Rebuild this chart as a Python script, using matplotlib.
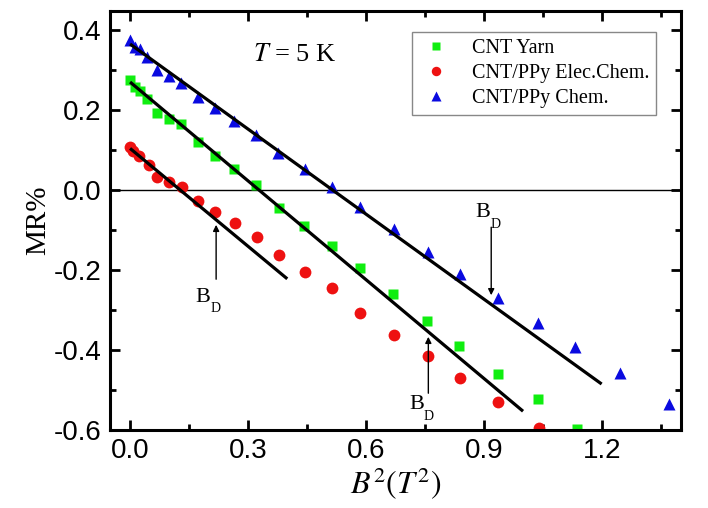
import numpy as np
import matplotlib
matplotlib.use("Agg")
import matplotlib.pyplot as plt
from matplotlib.ticker import MultipleLocator, FormatStrFormatter

plt.rcParams['axes.unicode_minus'] = False
plt.rcParams['mathtext.fontset'] = 'stix'

# CNT Yarn (green squares)
yarn_x = [0.0, 0.013, 0.025, 0.044, 0.068, 0.098, 0.129, 0.174, 0.216, 0.265, 0.320, 0.379,
          0.443, 0.513, 0.584, 0.670, 0.755, 0.838, 0.937, 1.038, 1.137]
yarn_y = [0.275, 0.258, 0.248, 0.227, 0.192, 0.178, 0.164, 0.121, 0.085, 0.052, 0.012, -0.044,
          -0.090, -0.139, -0.196, -0.261, -0.327, -0.390, -0.460, -0.522, -0.598]

# CNT/PPy Elec.Chem. (red circles)
elec_x = [0.0, 0.008, 0.024, 0.047, 0.069, 0.099, 0.131, 0.174, 0.216, 0.267, 0.322, 0.379,
          0.445, 0.515, 0.585, 0.672, 0.759, 0.840, 0.937, 1.041]
elec_y = [0.108, 0.098, 0.086, 0.062, 0.033, 0.021, 0.007, -0.027, -0.055, -0.083, -0.118, -0.163,
          -0.204, -0.246, -0.307, -0.363, -0.415, -0.471, -0.531, -0.594]

# CNT/PPy Chem. (blue triangles)
chem_x = [0.0, 0.013, 0.025, 0.043, 0.068, 0.099, 0.129, 0.173, 0.216, 0.265, 0.321, 0.377,
          0.445, 0.513, 0.585, 0.672, 0.759, 0.840, 0.937, 1.038, 1.132, 1.247, 1.371]
chem_y = [0.375, 0.358, 0.352, 0.333, 0.300, 0.285, 0.268, 0.233, 0.205, 0.173, 0.138, 0.093,
          0.052, 0.008, -0.043, -0.098, -0.154, -0.210, -0.271, -0.332, -0.393, -0.458, -0.535]

# linear fits (start / end points)
fit_yarn = ([0.0, 1.0], [0.270, -0.553])
fit_elec = ([0.0, 0.40], [0.104, -0.222])
fit_chem = ([0.0, 1.2], [0.365, -0.485])

# B_D markers: (arrow x, tail y, head y, text x, text y)
bd_marks = [(0.219, -0.223, -0.087, 0.205, -0.268),
            (0.759, -0.508, -0.367, 0.748, -0.537),
            (0.919, -0.093, -0.263, 0.916, -0.057)]

fig = plt.figure(figsize=(7.08, 5.08), dpi=100)
ax = fig.add_axes([0.1554, 0.1535, 0.8065, 0.8248])

ax.axhline(0, color='black', lw=1.0, zorder=1)

for fx, fy in (fit_yarn, fit_elec, fit_chem):
    ax.plot(fx, fy, color='black', lw=2.3, zorder=3, solid_capstyle='butt')

ax.plot(yarn_x, yarn_y, 's', color='#10ee10', ms=7.5, mec='none', label='CNT Yarn', zorder=2)
ax.plot(elec_x, elec_y, 'o', color='#ee1111', ms=8.5, mec='none', label='CNT/PPy Elec.Chem.', zorder=2)
ax.plot(chem_x, chem_y, '^', color='#0a0ae0', ms=9, mec='none', label='CNT/PPy Chem.', zorder=2)

for ax_x, y0, y1, tx, ty in bd_marks:
    ax.annotate('', xy=(ax_x, y1), xytext=(ax_x, y0),
                arrowprops=dict(arrowstyle='-|>', color='black', lw=1.0,
                                mutation_scale=9, shrinkA=0, shrinkB=0))
    ax.text(tx, ty, 'B', fontsize=16, family='Liberation Serif', ha='right', va='center')
    ax.text(tx, ty - 0.028, 'D', fontsize=10, family='Liberation Serif', ha='left', va='center')

ax.text(0.42, 0.338, r'$T$ = 5 K', fontsize=19, family='Liberation Serif',
        ha='center', va='center')

ax.set_xlim(-0.051, 1.402)
ax.set_ylim(-0.6, 0.4475)
ax.xaxis.set_major_locator(MultipleLocator(0.3))
ax.xaxis.set_minor_locator(MultipleLocator(0.15))
ax.yaxis.set_major_locator(MultipleLocator(0.2))
ax.yaxis.set_minor_locator(MultipleLocator(0.1))
ax.xaxis.set_major_formatter(FormatStrFormatter('%.1f'))
ax.yaxis.set_major_formatter(FormatStrFormatter('%.1f'))

ax.tick_params(which='both', direction='in', top=True, right=True, width=2.0)
ax.tick_params(which='major', length=7, labelsize=20, pad=6)
ax.tick_params(which='minor', length=4)
for lbl in ax.get_xticklabels() + ax.get_yticklabels():
    lbl.set_family(['Liberation Sans Narrow', 'Liberation Sans'])
for sp in ax.spines.values():
    sp.set_linewidth(2.2)

ax.set_xlabel(r'$B^{2}(T^{2})$', fontsize=23, labelpad=1)
ax.set_ylabel('MR%', fontsize=21, family='Liberation Serif', labelpad=2)

leg = ax.legend(loc='upper right', bbox_to_anchor=(0.974, 0.975),
                prop={'family': 'Liberation Serif', 'size': 14.5},
                frameon=True, fancybox=False, edgecolor='#888888', framealpha=1,
                borderpad=0.35, labelspacing=0.3, handletextpad=0.9,
                handlelength=1.7, markerscale=0.8)
leg.get_frame().set_linewidth(1.0)

fig.savefig('out.png', dpi=100)
